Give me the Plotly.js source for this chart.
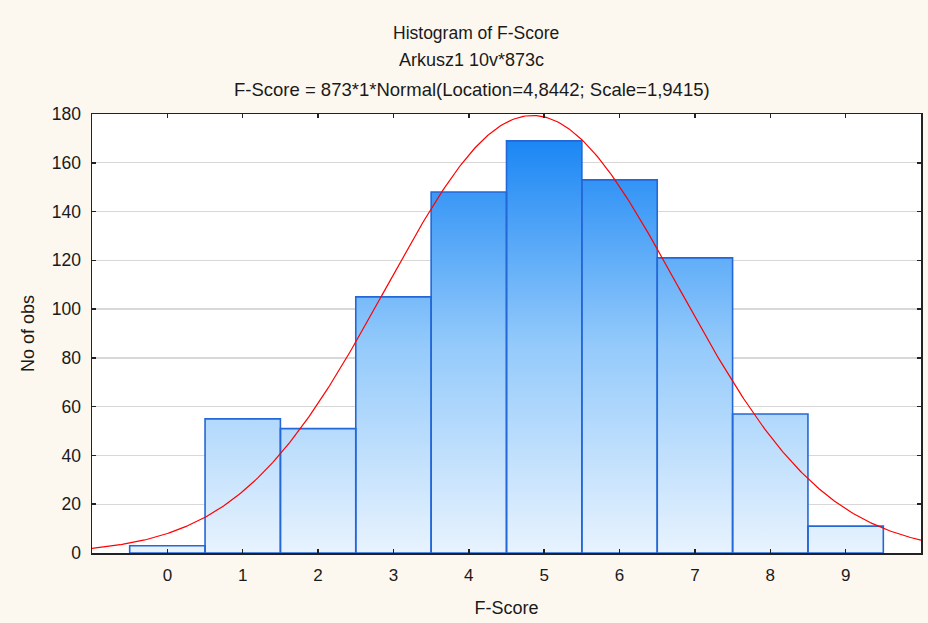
<!DOCTYPE html>
<html>
<head>
<meta charset="utf-8">
<script src="https://cdn.plot.ly/plotly-3.0.1.min.js"></script>
<style>html,body{margin:0;padding:0;background:#fdf8ef;}</style>
</head>
<body>
<div id="chart" style="width:928px;height:623px;"></div>
<script>
// Data
const scores = [0, 1, 2, 3, 4, 5, 6, 7, 8, 9];
const counts = [3, 55, 51, 105, 148, 169, 153, 121, 57, 11];
const tickLabels = ["0", "1", "2", "3", "4", "5", "6", "7", "8", "9"];
const yTicks = [0, 20, 40, 60, 80, 100, 120, 140, 160, 180];
const titleLines = [
  "Histogram of F-Score",
  "Arkusz1 10v*873c",
  "F-Score = 873*1*Normal(Location=4,8442; Scale=1,9415)"
];
// Fitted normal parameters as stated in the chart title
const nObs = 873;
const binWidth = 1;
const fitLocation = 4.8442;
const fitScale = 1.9415;

// Build histogram bars as closed polygons (derived from data)
const bx = [], by = [];
scores.forEach((s, i) => {
  const l = s - binWidth / 2, r = s + binWidth / 2;
  bx.push(l, l, r, r, l, null);
  by.push(0, counts[i], counts[i], 0, 0, null);
});

// Fitted normal curve: 873*1*Normal(4.8442, 1.9415)
const cx = [], cy = [];
for (let k = 0; k <= 440; k++) {
  const x = -1 + k * 0.025;
  const z = (x - fitLocation) / fitScale;
  cx.push(x);
  cy.push(nObs * binWidth * Math.exp(-0.5 * z * z) / (fitScale * Math.sqrt(2 * Math.PI)));
}

const traces = [
  {
    type: 'scatter', mode: 'lines', x: bx, y: by,
    fill: 'toself',
    fillgradient: {
      type: 'vertical',
      colorscale: [[0, '#e8f3fe'], [0.5, '#94cafb'], [1, '#1a86f4']],
      start: 0, stop: 170
    },
    line: { color: '#2467d6', width: 1.6 },
    hoverinfo: 'skip', showlegend: false
  },
  {
    type: 'scatter', mode: 'lines', x: cx, y: cy,
    line: { color: '#ff0000', width: 1.2 },
    hoverinfo: 'skip', showlegend: false
  }
];

const fontFam = '"Liberation Sans", Arial, sans-serif';
const txtColor = '#1a1a1a';
const titleSizes = [17.5, 18, 18.5];
const titleY = [1.1846, 1.1225, 1.056];
const titleX = [0.4638, 0.4575, 0.4584];

const layout = {
  width: 928, height: 623,
  paper_bgcolor: '#fdf8ef',
  plot_bgcolor: '#ffffff',
  margin: { l: 92, r: 7, t: 114, b: 70 },
  font: { family: fontFam, size: 17, color: txtColor },
  annotations: titleLines.map((t, i) => ({
    text: t, xref: 'paper', yref: 'paper',
    x: titleX[i], y: titleY[i], xanchor: 'center', yanchor: 'middle',
    showarrow: false, font: { family: fontFam, size: titleSizes[i], color: txtColor }
  })),
  xaxis: {
    range: [-1, 10],
    tickvals: scores, ticktext: tickLabels,
    ticks: 'inside', ticklen: 4, tickwidth: 1.5, tickcolor: '#222',
    showline: true, linecolor: '#222', linewidth: 1.5, mirror: 'ticks',
    showgrid: false, zeroline: false,
    tickfont: { size: 17 },
    ticklabelstandoff: 6,
    title: { text: 'F-Score', font: { size: 18 }, standoff: 17 }
  },
  yaxis: {
    range: [0, 180],
    tickvals: yTicks,
    ticks: 'inside', ticklen: 4, tickwidth: 1.5, tickcolor: '#222',
    showline: true, linecolor: '#222', linewidth: 1.5, mirror: 'ticks',
    showgrid: true, gridcolor: '#d8d8d8', gridwidth: 1.4,
    zeroline: false,
    tickfont: { size: 17.5 },
    ticklabelstandoff: 6,
    title: { text: 'No of obs', font: { size: 18 }, standoff: 12 }
  }
};

Plotly.newPlot('chart', traces, layout, { displayModeBar: false, staticPlot: true });
</script>
</body>
</html>
